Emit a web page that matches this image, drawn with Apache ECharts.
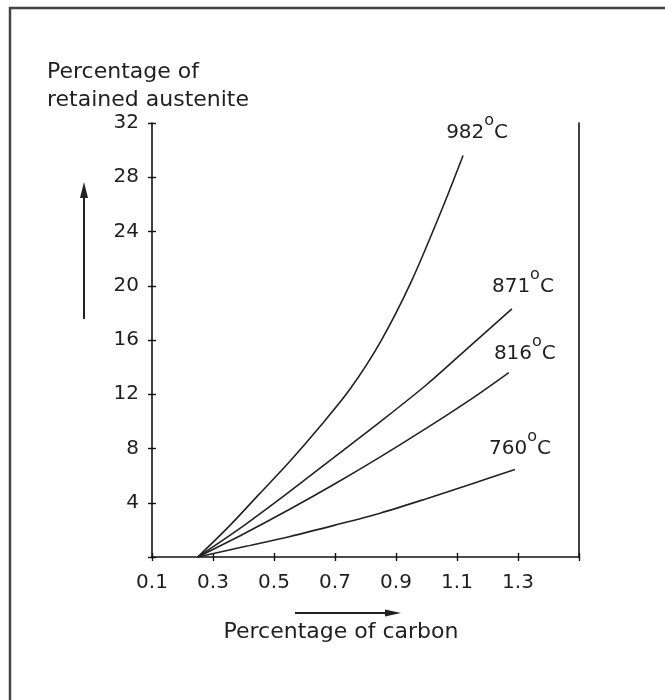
<!DOCTYPE html>
<html><head><meta charset="utf-8">
<script src="https://cdn.jsdelivr.net/npm/echarts@6/dist/echarts.min.js"></script>
<style>html,body{margin:0;padding:0;background:#fff}#c{width:665px;height:700px}</style>
</head><body><div id="c"></div>
<script>
// ---- data ----
const xTickLabels = ['0.1', '0.3', '0.5', '0.7', '0.9', '1.1', '1.3'];
const yTickLabels = ['4', '8', '12', '16', '20', '24', '28', '32'];
const temperatures = ['982', '871', '816', '760'];

const carbon982    = [0.25, 0.35, 0.45, 0.55, 0.65, 0.75, 0.85, 0.95, 1.05, 1.12];
const austenite982 = [0,    2.2,  4.6,  7.0,  9.6,  12.4, 15.9, 20.3, 25.6, 29.6];

const carbon871    = [0.25, 0.40, 0.55, 0.70, 0.85, 1.00, 1.15, 1.28];
const austenite871 = [0,    2.3,  4.8,  7.4,  10.0, 12.7, 15.7, 18.3];

const carbon816    = [0.25, 0.40, 0.55, 0.70, 0.85, 1.00, 1.15, 1.27];
const austenite816 = [0,    1.7,  3.5,  5.4,  7.4,  9.5,  11.7, 13.6];

const carbon760    = [0.25, 0.40, 0.55, 0.70, 0.85, 1.00, 1.15, 1.29];
const austenite760 = [0,    0.75, 1.5,  2.35, 3.25, 4.3,  5.4,  6.45];

const yTitle = ['Percentage of', 'retained austenite'];
const xTitle = 'Percentage of carbon';

// ---- styling ----
const FONT = 'DejaVu Sans';
const INK = '#1e1e24';
const zip = (xs, ys) => xs.map((x, i) => [x, ys[i]]);
const curves = [
  {name: temperatures[0], data: zip(carbon982, austenite982), off: [14, -24]},
  {name: temperatures[1], data: zip(carbon871, austenite871), off: [11, -23]},
  {name: temperatures[2], data: zip(carbon816, austenite816), off: [16, -20]},
  {name: temperatures[3], data: zip(carbon760, austenite760), off: [5, -22]}
];

const chart = echarts.init(document.getElementById('c'), null, {renderer: 'canvas'});
const axisLine = {show: true, lineStyle: {color: '#111', width: 1.6}};
const tickStyle = {color: '#111', width: 1.4};

chart.setOption({
  animation: false,
  backgroundColor: '#fff',
  grid: {left: 152, right: 86, top: 123, bottom: 143, containLabel: false},
  xAxis: [{
    type: 'value', min: 0.1, max: 1.5, interval: 0.2,
    axisLine: axisLine, splitLine: {show: false},
    axisTick: {show: true, inside: false, length: 4, lineStyle: tickStyle},
    axisLabel: {
      margin: 16, fontFamily: FONT, fontSize: 20, color: INK,
      formatter: v => { const s = (+v).toFixed(1); return xTickLabels.indexOf(s) >= 0 ? s : ''; }
    }
  }, {
    type: 'value', min: 0.1, max: 1.5, interval: 0.2, position: 'bottom',
    axisLine: {show: false}, splitLine: {show: false}, axisLabel: {show: false},
    axisTick: {show: true, inside: true, length: 4, lineStyle: tickStyle}
  }],
  yAxis: [{
    type: 'value', min: 0, max: 32, interval: 4,
    axisLine: axisLine, splitLine: {show: false},
    axisTick: {show: true, inside: false, length: 4, lineStyle: tickStyle},
    axisLabel: {
      margin: 13, fontFamily: FONT, fontSize: 20, color: INK,
      formatter: v => { const s = String(Math.round(v)); return yTickLabels.indexOf(s) >= 0 ? s : ''; }
    }
  }, {
    type: 'value', min: 0, max: 32, interval: 4, position: 'left',
    axisLine: {show: false}, splitLine: {show: false}, axisLabel: {show: false},
    axisTick: {show: true, inside: true, length: 4, lineStyle: tickStyle}
  }, {
    type: 'value', min: 0, max: 32, interval: 4, position: 'right',
    axisLine: axisLine, splitLine: {show: false}, axisLabel: {show: false},
    axisTick: {show: false}
  }],
  series: curves.map(c => ({
    type: 'line', name: c.name, data: c.data, xAxisIndex: 0, yAxisIndex: 0,
    smooth: 0.3, showSymbol: false, symbol: 'none',
    lineStyle: {color: '#222', width: 1.6},
    endLabel: {
      show: true, distance: 0, align: 'center', verticalAlign: 'middle',
      offset: c.off,
      formatter: p => '{n|' + p.seriesName + '}{s|o}{n|C}',
      rich: {
        n: {fontFamily: FONT, fontSize: 20, color: INK, lineHeight: 22, verticalAlign: 'bottom'},
        s: {fontFamily: FONT, fontSize: 16, color: INK, lineHeight: 15, padding: [0, 0, 14, 0], verticalAlign: 'bottom'}
      }
    }
  })),
  graphic: [
    {type: 'polyline', shape: {points: [[10, 700], [10, 8], [665, 8]]},
     style: {stroke: '#444', lineWidth: 2.5, fill: null}, silent: true},
    {type: 'text', left: 47, top: 58,
     style: {text: yTitle.join('\n'), fontFamily: FONT, fontSize: 22, lineHeight: 28, fill: INK}},
    {type: 'text', x: 341, y: 632,
     style: {text: xTitle, fontFamily: FONT, fontSize: 22, fill: INK, align: 'center', verticalAlign: 'middle'}},
    {type: 'line', shape: {x1: 84, y1: 319, x2: 84, y2: 192}, style: {stroke: '#222', lineWidth: 2}},
    {type: 'polygon', shape: {points: [[84, 182], [80, 198], [88, 198]]}, style: {fill: '#222'}},
    {type: 'line', shape: {x1: 295, y1: 613, x2: 390, y2: 613}, style: {stroke: '#222', lineWidth: 2}},
    {type: 'polygon', shape: {points: [[401, 613], [385, 609.5], [385, 616.5]]}, style: {fill: '#222'}}
  ]
});
</script>
</body></html>
